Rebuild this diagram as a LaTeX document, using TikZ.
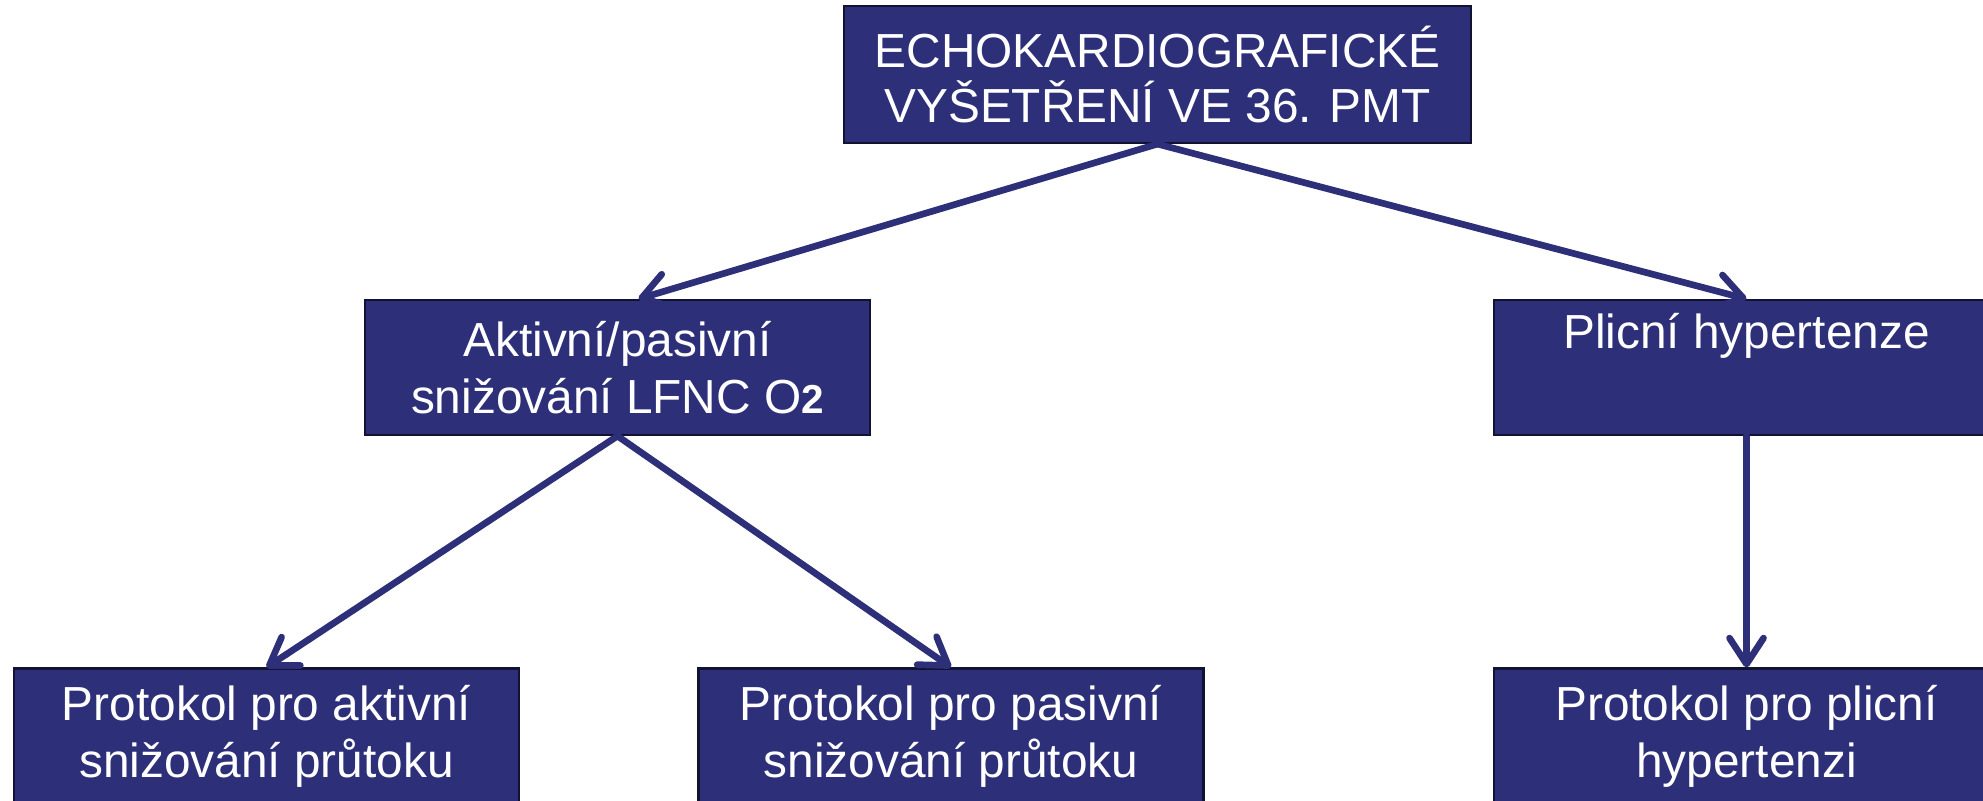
\documentclass[tikz,border=0pt]{standalone}
\usepackage{fontspec}
\setmainfont{Liberation Sans}
\usepackage{tikz}
\usetikzlibrary{arrows.meta, calc, positioning}
\definecolor{echoNavy}{RGB}{45,47,120}
\definecolor{echoEdge}{RGB}{18,18,50}
\tikzset{
    echoBox/.style={rectangle, draw=echoEdge, line width=0.6pt, fill=echoNavy, text=white, align=center, inner sep=0pt, minimum width=5.05cm, minimum height=1.35cm, font=\fontsize{13.6}{16.2}\selectfont},
    echoTop/.style={echoBox, minimum width=6.27cm, minimum height=1.37cm, font=\fontsize{13.6}{15.4}\selectfont},
    echoFlow/.style={-{Straight Barb[length=2.6mm, width=3.4mm, round]}, line width=1.9pt, echoNavy, line cap=round, line join=round},
}
\newcommand{\drawFlow}[2]{
    \draw[echoFlow] (#1) -- (#2);
}
\newcommand{\subTwo}{{\bfseries\fontsize{11.5}{11.5}\selectfont 2}}

\begin{document}
\begin{tikzpicture}[x=1cm, y=1cm]

        \useasboundingbox (0, 0) rectangle (19.83, -8.01);

        \node[echoTop] (echo) at (11.575, -0.745) {ECHOKARDIOGRAFICKÉ\\VYŠETŘENÍ VE 36. PMT};
        \node[echoBox] (sniz) at (6.175, -3.675) {Aktivní/pasivní\\snižování LFNC O\subTwo};
        \node[echoBox] (plic) at (17.465, -3.675) {Plicní hypertenze\\\strut};
        \node[echoBox] (aktiv) at (2.665, -7.36) {Protokol pro aktivní\\snižování průtoku};
        \node[echoBox] (pasiv) at (9.51, -7.36) {Protokol pro pasivní\\snižování průtoku};
        \node[echoBox] (hyper) at (17.465, -7.36) {Protokol pro plicní\\hypertenzi};

        \drawFlow{echo.south}{$(sniz.north)+(0.21, 0)$}
        \drawFlow{echo.south}{plic.north}
        \drawFlow{sniz.south}{aktiv.north}
        \drawFlow{sniz.south}{pasiv.north}
        \drawFlow{plic.south}{hyper.north}

    \end{tikzpicture}
\end{document}
